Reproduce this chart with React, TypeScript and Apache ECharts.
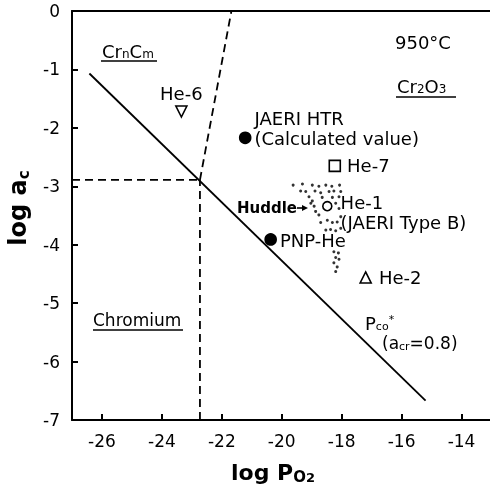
import React, { useEffect, useRef } from "react";
import * as echarts from "echarts";

// ---- data ----
const xTicks = [-26, -24, -22, -20, -18, -16, -14];

const pcoLineX = [-26.42, -15.2];
const pcoLineY = [-1.07, -6.67];

const boundHX = [-27, -22.73];
const boundHY = [-2.89, -2.89];
const boundVX = [-22.73, -22.73];
const boundVY = [-7, -2.89];
const boundSX = [-22.73, -21.68];
const boundSY = [-2.89, 0];

const sampleNames = ["He-6", "JAERI HTR\n(Calculated value)", "He-7", "He-1\n(JAERI Type B)", "PNP-He", "He-2"];
const sampleX = [-23.35, -21.22, -18.23, -18.48, -20.37, -17.2];
const sampleY = [-1.72, -2.17, -2.65, -3.34, -3.91, -4.56];

const huddleX = [
  -19.62, -19.31, -18.98, -18.76, -18.53, -18.33, -18.07,
  -19.37, -19.2, -18.89, -18.7, -18.42, -18.26, -18.03,
  -19.09, -18.65, -18.31, -18.09, -18.98,
  -19.03, -18.92, -18.87, -18.76, -18.2, -18.09,
  -18.7, -18.48, -18.31, -18.15, -18.03,
  -18.53, -18.37, -18.2, -18.03,
  -18.26, -18.11, -18.2, -18.09, -18.26, -18.15, -18.2,
];
const huddleY = [
  -2.98, -2.96, -2.98, -3.0, -2.98, -3.0, -2.98,
  -3.08, -3.09, -3.08, -3.11, -3.09, -3.08, -3.09,
  -3.18, -3.19, -3.19, -3.18, -3.25,
  -3.29, -3.34, -3.43, -3.49, -3.29, -3.38,
  -3.62, -3.58, -3.62, -3.61, -3.52,
  -3.75, -3.74, -3.76, -3.72,
  -4.12, -4.14, -4.22, -4.25, -4.31, -4.38, -4.46,
];

const FONT = "DejaVu Sans";

export default function App() {
  const ref = useRef<HTMLDivElement>(null);
  useEffect(() => {
    if (!ref.current) return;
    const chart = echarts.init(ref.current, undefined, { renderer: "svg" });
    const axisLine = { show: true, onZero: false, lineStyle: { color: "#000", width: 2 } };

    const pair = (xs: number[], ys: number[]) => xs.map((x, i) => [x, ys[i]]);

    const sampleStyles: any[] = [
      { symbol: "triangle", symbolRotate: 180, size: 11, fill: "#fff", labelPos: "top", dist: 2, offset: [0, 0] },
      { symbol: "circle", size: 11, fill: "#000", labelPos: "right", dist: 3, offset: [0, -9] },
      { symbol: "rect", size: 11, fill: "#fff", labelPos: "right", dist: 6, offset: [0, 0] },
      { symbol: "circle", size: 9, fill: "#fff", labelPos: "right", dist: 8, offset: [0, 6] },
      { symbol: "circle", size: 11, fill: "#000", labelPos: "right", dist: 3, offset: [0, 1] },
      { symbol: "triangle", size: 11, fill: "#fff", labelPos: "right", dist: 7, offset: [0, 0] },
    ];

    const sampleSeries = sampleNames.map((name, i) => {
      const st = sampleStyles[i];
      return {
        type: "scatter",
        name,
        symbol: st.symbol,
        symbolRotate: st.symbolRotate || 0,
        symbolSize: st.size,
        itemStyle: { color: st.fill, borderColor: "#000", borderWidth: 1.6, opacity: 1 },
        label: {
          show: true,
          position: st.labelPos,
          distance: st.dist,
          offset: st.offset,
          formatter: name,
          color: "#000",
          fontFamily: FONT,
          fontSize: 18,
          lineHeight: 20,
          align: st.labelPos === "top" ? "center" : "left",
        },
        data: [{ value: [sampleX[i], sampleY[i]], name }],
        z: 5,
      };
    });

    const lineSeries = (xs: number[], ys: number[], dashed: boolean) => ({
      type: "line",
      data: pair(xs, ys),
      symbol: "none",
      silent: true,
      lineStyle: { color: "#000", width: 1.8, type: dashed ? [8, 5] : "solid" },
    });

    const txt = { fontFamily: FONT, fill: "#000" };
    const subRich = (big: number, small: number, weight = "normal") => ({
      t: { fontSize: big, fontFamily: FONT, fontWeight: weight, lineHeight: big, fill: "#000" },
      s: { fontSize: small, fontFamily: FONT, fontWeight: weight, lineHeight: small, verticalAlign: "bottom", fill: "#000" },
      u: { fontSize: small, fontFamily: FONT, fontWeight: weight, lineHeight: small, verticalAlign: "top", fill: "#000" },
    });

    chart.setOption({
      animation: false,
      grid: { left: 72, right: 0, top: 11, bottom: 70, containLabel: false },
      xAxis: [
        {
          type: "value",
          min: -27,
          max: -13.05,
          position: "bottom",
          axisLine,
          axisTick: { show: true, inside: true, length: 6, customValues: xTicks, lineStyle: { color: "#000", width: 2 } },
          axisLabel: { customValues: xTicks, fontSize: 17, color: "#000", fontFamily: FONT, margin: 12 },
          splitLine: { show: false },
        },
        {
          type: "value",
          min: -27,
          max: -13.05,
          position: "top",
          axisLine,
          axisTick: { show: false },
          axisLabel: { show: false },
          splitLine: { show: false },
        },
      ],
      yAxis: {
        type: "value",
        min: -7,
        max: 0,
        interval: 1,
        axisLine,
        axisTick: { show: true, inside: true, length: 6, lineStyle: { color: "#000", width: 2 } },
        axisLabel: { fontSize: 17, color: "#000", fontFamily: FONT, margin: 12 },
        splitLine: { show: false },
      },
      series: [
        lineSeries(pcoLineX, pcoLineY, false),
        lineSeries(boundHX, boundHY, true),
        lineSeries(boundVX, boundVY, true),
        lineSeries(boundSX, boundSY, true),
        {
          type: "scatter",
          name: "Huddle",
          symbol: "circle",
          symbolSize: 3,
          itemStyle: { color: "#000" },
          data: pair(huddleX, huddleY),
          silent: true,
        },
        ...sampleSeries,
      ],
      graphic: [
        { type: "text", x: 395, y: 42, style: { ...txt, text: "950°C", fontSize: 18, verticalAlign: "middle" } },
        {
          type: "text", x: 397, y: 86,
          style: { text: "{t|Cr}{s|2}{t|O}{s|3}", rich: subRich(18, 12), verticalAlign: "middle" },
        },
        { type: "line", shape: { x1: 396, y1: 97, x2: 456, y2: 97 }, style: { stroke: "#000", lineWidth: 1.5 } },
        {
          type: "text", x: 102, y: 51,
          style: { text: "{t|Cr}{s|n}{t|C}{s|m}", rich: subRich(18, 12), verticalAlign: "middle" },
        },
        { type: "line", shape: { x1: 101, y1: 61, x2: 157, y2: 61 }, style: { stroke: "#000", lineWidth: 1.5 } },
        { type: "text", x: 93, y: 320, style: { ...txt, text: "Chromium", fontSize: 17, verticalAlign: "middle" } },
        { type: "line", shape: { x1: 93, y1: 330, x2: 183, y2: 330 }, style: { stroke: "#000", lineWidth: 1.5 } },
        {
          type: "text", x: 365, y: 323,
          style: { text: "{t|P}{s|co}{u|*}", rich: subRich(18, 11), verticalAlign: "middle" },
        },
        {
          type: "text", x: 382, y: 343,
          style: { text: "{t|(a}{s|cr}{t|=0.8)}", rich: subRich(17, 11), verticalAlign: "middle" },
        },
        { type: "text", x: 237, y: 208, style: { ...txt, text: "Huddle", fontSize: 15, fontWeight: "bold", verticalAlign: "middle" } },
        { type: "line", shape: { x1: 297, y1: 208, x2: 304, y2: 208 }, style: { stroke: "#000", lineWidth: 1.6 } },
        { type: "polygon", shape: { points: [[302, 205], [308, 208], [302, 211]] }, style: { fill: "#000" } },
        {
          type: "text", x: 231, y: 472,
          style: {
            text: "{t|log P}{s|O}{ss|2}",
            verticalAlign: "middle",
            rich: {
              t: { fontSize: 22, fontWeight: "bold", fontFamily: FONT, lineHeight: 24, fill: "#000" },
              s: { fontSize: 15, fontWeight: "bold", fontFamily: FONT, lineHeight: 15, verticalAlign: "bottom", fill: "#000" },
              ss: { fontSize: 13, fontWeight: "bold", fontFamily: FONT, lineHeight: 9, verticalAlign: "bottom", fill: "#000" },
            },
          },
        },
        {
          type: "text", x: 18, y: 208, rotation: Math.PI / 2,
          style: {
            text: "{t|log a}{s|c}",
            align: "center",
            verticalAlign: "middle",
            rich: {
              t: { fontSize: 24, fontWeight: "bold", fontFamily: FONT, lineHeight: 26, fill: "#000" },
              s: { fontSize: 15, fontWeight: "bold", fontFamily: FONT, lineHeight: 15, verticalAlign: "bottom", fill: "#000" },
            },
          },
        },
      ],
    });
    return () => chart.dispose();
  }, []);
  return <div ref={ref} style={{ position: "fixed", left: 0, top: 0, width: 490, height: 490 }} />;
}
